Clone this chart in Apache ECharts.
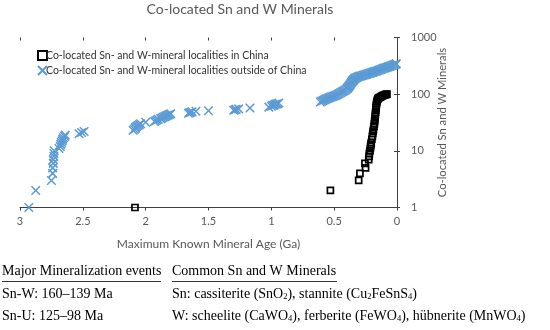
<!DOCTYPE html>
<html><head><meta charset="utf-8">
<script src="https://cdn.jsdelivr.net/npm/echarts@6/dist/echarts.min.js"></script>
<style>html,body{margin:0;padding:0;background:#fff}#c{width:550px;height:330px}</style>
</head><body><div id="c"></div>
<script>
// China localities: maximum known mineral age (Ga) and cumulative count
var chinaAges = [2.085,0.53,0.305,0.295,0.25,0.255,0.225,0.222,0.22,0.215,0.212,0.21,0.207,0.205,0.2,0.196,0.193,0.19,0.187,0.183,0.18,0.178,0.176,0.174,0.172,0.17,0.168,0.167,0.165,0.163,0.16,0.157,0.153,0.148,0.14,0.132,0.125,0.118,0.11,0.1,0.092,0.085,0.08];
var chinaCounts = [1,2,3,4,5,6,7,8,9,10,11,12,13,14,16,18,20,22,24,27,30,33,36,40,44,48,53,58,63,68,73,78,82,85,87,89,91,93,95,97,98,99,100];
// Outside-China localities
var otherAges = [2.93,2.875,2.75,2.74,2.74,2.735,2.735,2.73,2.73,2.728,2.69,2.68,2.675,2.67,2.665,2.66,2.655,2.645,2.64,2.53,2.51,2.49,2.1,2.09,2.08,2.08,2.07,2.06,2.05,2.04,2.0,1.93,1.92,1.91,1.9,1.88,1.87,1.86,1.85,1.84,1.83,1.82,1.81,1.8,1.66,1.65,1.64,1.63,1.6,1.5,1.3,1.29,1.28,1.26,1.17,1.02,1.0,0.99,0.98,0.97,0.96,0.95,0.94,
0.61,0.60,0.59,0.58,0.57,0.56,0.55,0.54,0.53,0.52,0.51,0.50,0.49,0.48,0.47,0.46,0.45,0.44,0.43,0.42,0.41,0.40,0.395,0.39,0.385,0.38,0.375,0.37,0.365,0.36,0.355,0.35,0.345,0.34,0.335,0.33,0.32,0.31,0.30,0.29,0.28,0.27,0.26,0.25,0.24,0.23,0.22,0.21,0.20,0.19,0.18,0.17,0.16,0.15,0.14,0.13,0.12,0.11,0.10,0.09,0.08,0.07,0.06,0.05,0.04,0.03,0.02,0.01,0.005];
var otherCounts = [1,2,3,4,5,6,7,8,9,10,11,12,13,14,15,16,17,18,19,20,21,22,23,24,25,26,27,28,29,30,32,33,34,35,36,37,38,39,40,41,42,43,44,45,46,47,48,49,50,51,52,53,54,55,57,59,61,63,64,66,67,68,70,
73,75,77,79,81,83,85,86,88,90,91,93,95,97,100,103,106,109,112,115,118,123,127,131,135,140,145,151,157,163,169,175,180,185,189,193,198,202,206,209,212,215,218,222,226,230,234,237,241,245,249,253,257,262,267,272,278,283,288,293,298,303,309,315,321,327,333,339,345];

function pairs(a,b){return a.map(function(v,i){return [v,b[i]];});}

var chart = echarts.init(document.getElementById('c'));
var font = 'Lato';
var gray = '#595959';
var serif = 'Liberation Serif';
var grid = {left:20,right:153,top:37.5,bottom:122.5};
var xBase = {type:'value',min:0,max:3,interval:0.5,inverse:true,gridIndex:0};
var yBase = {type:'log',logBase:10,min:1,max:1000,position:'right',gridIndex:0};
var subStyle = {fontSize:8.5,fontFamily:serif,fill:'#000',verticalAlign:'bottom'};
function txt(x,y,t){return {type:'text',left:x,top:y,style:{text:t,fontFamily:serif,fontSize:14,fill:'#000',rich:{s:subStyle}}};}
chart.setOption({
  animation:false,
  title:{text:'Co-located Sn and W Minerals',left:235,top:-3,textAlign:'center',
    textStyle:{fontFamily:font,fontSize:14,fontWeight:'normal',color:gray}},
  legend:{orient:'vertical',left:32,top:45,itemWidth:9,itemHeight:9,itemGap:4,
    textStyle:{fontFamily:font,fontSize:10.5,color:'#333',padding:[0,0,0,-6]},
    data:['Co-located Sn- and W-mineral localities in China','Co-located Sn- and W-mineral localities outside of China']},
  grid:grid,
  xAxis:[
    Object.assign({},xBase,{name:'Maximum Known Mineral Age (Ga)',nameLocation:'middle',nameGap:31,nameMoveOverlap:false,
      nameTextStyle:{fontFamily:font,fontSize:12,color:gray},
      axisLine:{lineStyle:{color:'#404040',width:1}},axisTick:{length:3,lineStyle:{color:'#404040'}},
      axisLabel:{fontFamily:font,fontSize:11,color:gray,margin:8,formatter:function(v){return String(v);}},
      splitLine:{show:false}}),
    Object.assign({},xBase,{axisLine:{show:false},axisTick:{inside:true,length:3,lineStyle:{color:'#404040'}},axisLabel:{show:false},splitLine:{show:false}})
  ],
  yAxis:[
    Object.assign({},yBase,{name:'Co-located Sn and W Minerals',nameLocation:'middle',nameGap:40,nameRotate:90,nameMoveOverlap:false,
      nameTextStyle:{fontFamily:font,fontSize:11.2,color:gray},
      axisLine:{show:true,lineStyle:{color:'#404040',width:1}},axisTick:{show:true,length:3,lineStyle:{color:'#404040'}},
      axisLabel:{fontFamily:font,fontSize:11,color:gray,margin:14,formatter:function(v){return String(v);}},splitLine:{show:false}}),
    Object.assign({},yBase,{axisLine:{show:false},axisTick:{show:true,inside:true,length:3,lineStyle:{color:'#404040'}},axisLabel:{show:false},splitLine:{show:false}})
  ],
  series:[
    {name:'Co-located Sn- and W-mineral localities outside of China',type:'scatter',xAxisIndex:0,yAxisIndex:0,
     symbol:'path://M0,0L10,10M10,0L0,10',symbolSize:8.5,
     itemStyle:{color:'rgba(0,0,0,0)',borderColor:'#5B9BD5',borderWidth:1.5,opacity:1},
     data:pairs(otherAges,otherCounts)},
    {name:'Co-located Sn- and W-mineral localities in China',type:'scatter',xAxisIndex:0,yAxisIndex:0,
     symbol:'rect',symbolSize:6,
     itemStyle:{color:'rgba(255,255,255,0)',borderColor:'#000',borderWidth:1.7,opacity:1},
     data:pairs(chinaAges,chinaCounts)}
  ],
  graphic:[
    txt(2,264,'Major Mineralization events'),
    {type:'line',shape:{x1:2,y1:281.5,x2:161,y2:281.5},style:{stroke:'#000',lineWidth:0.8}},
    txt(2,287,'Sn-W: 160\u2013139 Ma'),
    txt(2,309,'Sn-U: 125\u201398 Ma'),
    txt(172,264,'Common Sn and W Minerals'),
    {type:'line',shape:{x1:172,y1:281.5,x2:337,y2:281.5},style:{stroke:'#000',lineWidth:0.8}},
    txt(172,287,'Sn: cassiterite (SnO{s|2}), stannite (Cu{s|2}FeSnS{s|4})'),
    txt(172,309,'W: scheelite (CaWO{s|4}), ferberite (FeWO{s|4}), h\u00fcbnerite (MnWO{s|4})')
  ]
});
</script></body></html>
